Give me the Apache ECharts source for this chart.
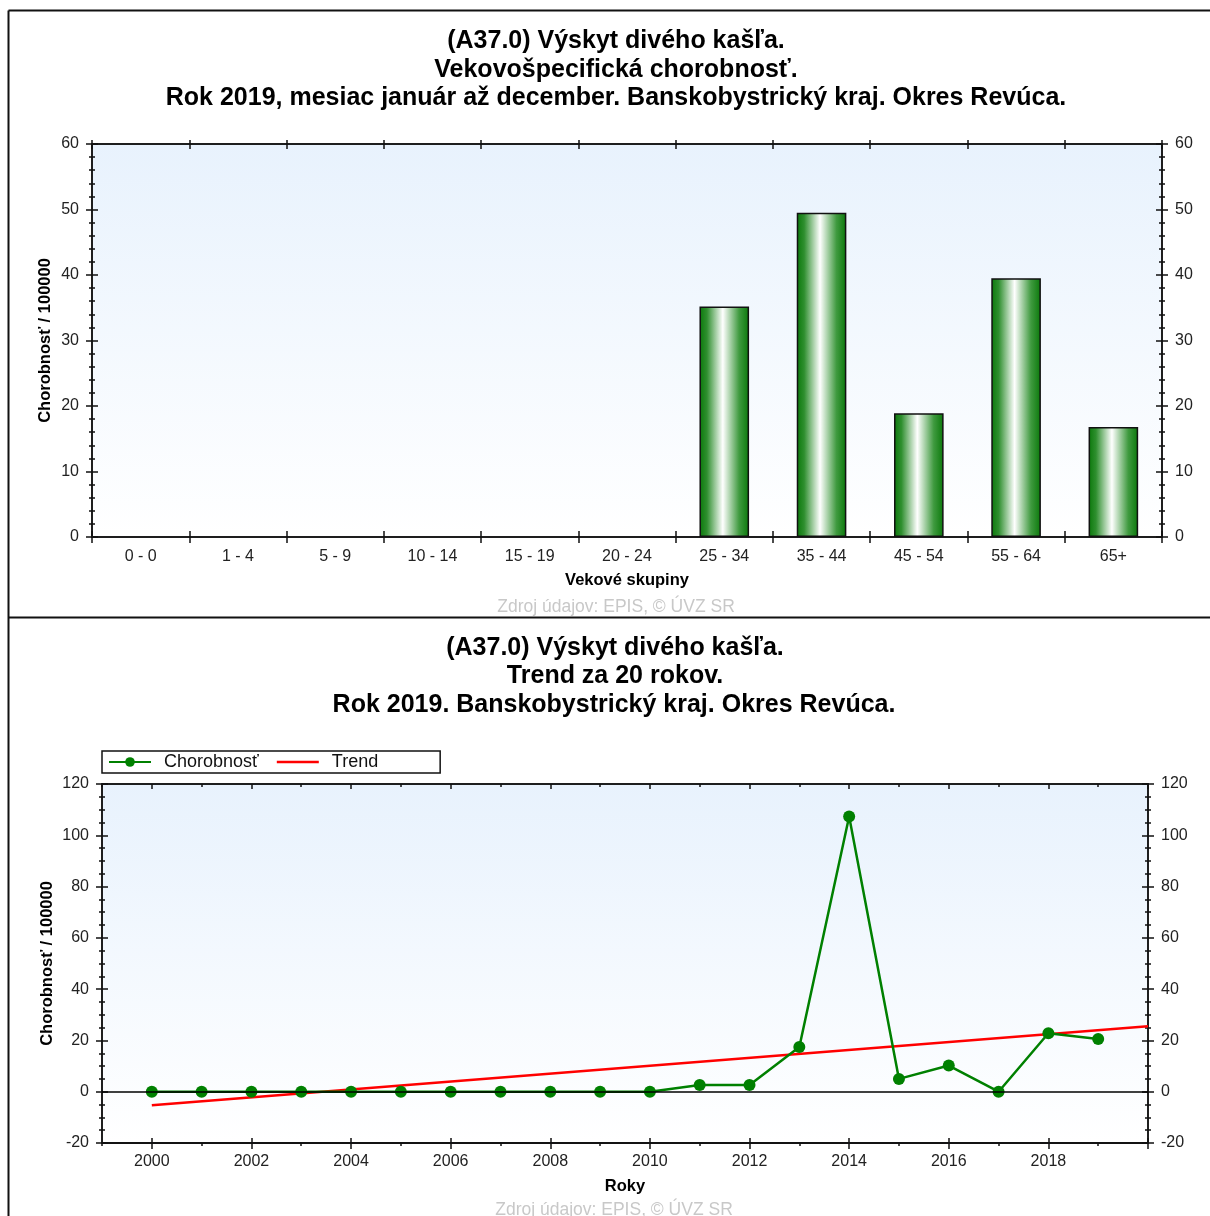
<!DOCTYPE html>
<html>
<head>
<meta charset="utf-8">
<script src="https://cdn.jsdelivr.net/npm/echarts@6/dist/echarts.min.js"></script>
<style>
html,body{margin:0;padding:0;background:#fff;}
#chart{width:1210px;height:1216px;}
</style>
</head>
<body>
<div id="chart"></div>
<script>
// ---- Data ----
const ageGroups = ['0 - 0','1 - 4','5 - 9','10 - 14','15 - 19','20 - 24','25 - 34','35 - 44','45 - 54','55 - 64','65+'];
const ageRates = [0, 0, 0, 0, 0, 0, 35.2, 49.5, 18.9, 39.5, 16.8];

const yearAxisCats = ['1999','2000','2001','2002','2003','2004','2005','2006','2007','2008','2009','2010','2011','2012','2013','2014','2015','2016','2017','2018','2019','2020'];
const years = ['2000','2001','2002','2003','2004','2005','2006','2007','2008','2009','2010','2011','2012','2013','2014','2015','2016','2017','2018','2019'];
const rates = [0, 0, 0, 0, 0, 0, 0, 0, 0, 0, 0, 2.6, 2.6, 17.4, 107.3, 5.0, 10.2, 0, 22.8, 20.6];
const trendYears = ['2000','2020'];
const trendValues = [-5.3, 25.5];

const topTitleLines = ['(A37.0) Výskyt divého kašľa.', 'Vekovošpecifická chorobnosť.', 'Rok 2019, mesiac január až december. Banskobystrický kraj. Okres Revúca.'];
const bottomTitleLines = ['(A37.0) Výskyt divého kašľa.', 'Trend za 20 rokov.', 'Rok 2019. Banskobystrický kraj. Okres Revúca.'];
const yName = 'Chorobnosť / 100000';
const xNameTop = 'Vekové skupiny';
const xNameBottom = 'Roky';
const sourceText = 'Zdroj údajov: EPIS, © ÚVZ SR';
const legendNames = ['Chorobnosť', 'Trend'];

// ---- Styles ----
const FONT = '"Liberation Sans", Arial, sans-serif';
const AX = '#111';
const LBL = '#222';

function catAxis(gridIndex, data, position, inside, len, boundaryGap, extra) {
  return Object.assign({
    type: 'category', gridIndex: gridIndex, data: data, position: position,
    boundaryGap: boundaryGap,
    axisLine: {show: true, onZero: false, lineStyle: {color: AX, width: 1.5}},
    axisTick: {show: true, inside: inside, length: len, lineStyle: {color: AX, width: 1.5}},
    axisLabel: {show: false},
    splitLine: {show: false}
  }, extra || {});
}

function valAxis(gridIndex, position, min, max, interval, split, inside, labels, extra) {
  return Object.assign({
    type: 'value', gridIndex: gridIndex, position: position,
    min: min, max: max, interval: interval,
    axisLine: {show: true, onZero: false, lineStyle: {color: AX, width: 1.5}},
    axisTick: {show: true, inside: inside, length: 6, lineStyle: {color: AX, width: 1.5}},
    minorTick: {show: true, splitNumber: split, length: 3, lineStyle: {color: AX, width: 1.5}},
    axisLabel: labels ? {show: true, color: LBL, fontSize: 16, fontFamily: FONT, margin: 13} : {show: false},
    splitLine: {show: false}, minorSplitLine: {show: false}
  }, extra || {});
}

const bgGrad = {type: 'linear', x: 0, y: 0, x2: 0, y2: 1,
  colorStops: [{offset: 0, color: '#e8f2fd'}, {offset: 1, color: '#ffffff'}]};

const barGrad = {type: 'linear', x: 0, y: 0, x2: 1, y2: 0,
  colorStops: [
    {offset: 0, color: '#0a780a'},
    {offset: 0.15, color: '#2f8f2f'},
    {offset: 0.47, color: '#ffffff'},
    {offset: 0.8, color: '#3f9a3f'},
    {offset: 1, color: '#0a780a'}
  ]};

const evenYear = function (idx, val) { return Number(val) % 2 === 0; };
const evenYearLabel = function (idx, val) { return Number(val) % 2 === 0 && idx < yearAxisCats.length - 1; };
const allTicks = function () { return true; };

const xNameStyle = {color: '#000', fontSize: 16.5, fontWeight: 'bold', fontFamily: FONT};
const xAxes = [
  // top chart: bottom axis with labels
  catAxis(0, ageGroups, 'bottom', false, 6, true, {
    axisLabel: {show: true, color: LBL, fontSize: 16, fontFamily: FONT, margin: 12, interval: 0},
    name: xNameTop, nameLocation: 'middle', nameGap: 35, nameMoveOverlap: false, nameTextStyle: xNameStyle
  }),
  catAxis(0, ageGroups, 'bottom', true, 6, true),
  catAxis(0, ageGroups, 'top', false, 4, true),
  catAxis(0, ageGroups, 'top', true, 5, true),
  // bottom chart
  catAxis(1, yearAxisCats, 'bottom', false, 6, false, {
    axisTick: {show: true, inside: false, length: 6, interval: evenYear, lineStyle: {color: AX, width: 1.5}},
    axisLabel: {show: true, color: LBL, fontSize: 16, fontFamily: FONT, margin: 11, interval: evenYearLabel},
    name: xNameBottom, nameLocation: 'middle', nameGap: 35, nameMoveOverlap: false, nameTextStyle: xNameStyle
  }),
  catAxis(1, yearAxisCats, 'bottom', true, 5, false, {
    axisTick: {show: true, inside: true, length: 5, interval: evenYear, lineStyle: {color: AX, width: 1.5}}
  }),
  catAxis(1, yearAxisCats, 'bottom', false, 3, false, {
    axisTick: {show: true, inside: false, length: 3, interval: allTicks, lineStyle: {color: AX, width: 1.5}}
  }),
  catAxis(1, yearAxisCats, 'top', true, 5, false, {
    axisTick: {show: true, inside: true, length: 5, interval: evenYear, lineStyle: {color: AX, width: 1.5}}
  }),
  catAxis(1, yearAxisCats, 'top', true, 3, false, {
    axisTick: {show: true, inside: true, length: 3, interval: allTicks, lineStyle: {color: AX, width: 1.5}}
  })
];

const yNameStyle = {color: '#000', fontSize: 16.5, fontWeight: 'bold', fontFamily: FONT};
const yAxes = [
  valAxis(0, 'left', 0, 60, 10, 5, false, true, {name: yName, nameLocation: 'middle', nameGap: 38, nameMoveOverlap: false, nameTextStyle: yNameStyle}),
  valAxis(0, 'left', 0, 60, 10, 5, true, false),
  valAxis(0, 'right', 0, 60, 10, 5, false, true),
  valAxis(0, 'right', 0, 60, 10, 5, true, false),
  valAxis(1, 'left', -20, 120, 20, 4, false, true, {name: yName, nameLocation: 'middle', nameGap: 46, nameMoveOverlap: false, nameTextStyle: yNameStyle}),
  valAxis(1, 'left', -20, 120, 20, 4, true, false),
  valAxis(1, 'right', -20, 120, 20, 4, false, true),
  valAxis(1, 'right', -20, 120, 20, 4, true, false)
];

function textEl(str, x, y, font, fill) {
  return {type: 'text', x: x, y: y, silent: true, z: 10,
    style: {text: str, font: font, fill: fill, textAlign: 'center', textVerticalAlign: 'middle', align: 'center', verticalAlign: 'middle'}};
}
function lineEl(x1, y1, x2, y2) {
  return {type: 'line', silent: true, z: 10, shape: {x1: x1, y1: y1, x2: x2, y2: y2}, style: {stroke: '#111', lineWidth: 2}};
}

const titleFont = 'bold 25px ' + FONT;
const srcFont = '17.5px ' + FONT;
const graphics = [
  lineEl(8.5, 10.5, 1210, 10.5),
  lineEl(8.5, 10.5, 8.5, 1216),
  lineEl(8.5, 617.5, 1210, 617.5),
  textEl(topTitleLines[0], 616, 41, titleFont, '#000'),
  textEl(topTitleLines[1], 616, 70, titleFont, '#000'),
  textEl(topTitleLines[2], 616, 98, titleFont, '#000'),
  textEl(bottomTitleLines[0], 615, 648, titleFont, '#000'),
  textEl(bottomTitleLines[1], 615, 676, titleFont, '#000'),
  textEl(bottomTitleLines[2], 614, 705, titleFont, '#000'),
  textEl(sourceText, 616, 607, srcFont, '#c8c8c8'),
  textEl(sourceText, 614, 1210, srcFont, '#c8c8c8')
];

const option = {
  animation: false,
  backgroundColor: '#fff',
  textStyle: {fontFamily: FONT},
  grid: [
    {left: 92, top: 144, width: 1070, height: 393, show: true, backgroundColor: bgGrad, borderWidth: 0},
    {left: 102, top: 784, width: 1046, height: 359, show: true, backgroundColor: bgGrad, borderWidth: 0}
  ],
  legend: {
    data: [
      {name: legendNames[0]},
      {name: legendNames[1], icon: 'path://M0,0 L40,0 L40,2.6 L0,2.6 Z'}
    ],
    left: 102, top: 751,
    orient: 'horizontal',
    padding: [2, 62, 2, 6],
    itemWidth: 42, itemHeight: 12, itemGap: 18,
    symbolKeepAspect: true,
    borderColor: '#111', borderWidth: 1.5,
    textStyle: {fontSize: 18, color: '#111', fontFamily: FONT, padding: [0, 0, 0, 8]},
    selectedMode: false
  },
  xAxis: xAxes,
  yAxis: yAxes,
  graphic: graphics,
  series: [
    {
      type: 'bar', name: 'bars', xAxisIndex: 0, yAxisIndex: 0,
      data: ageRates.map(function (v) { return v === 0 ? '-' : v; }),
      barWidth: '51%',
      itemStyle: {color: barGrad, borderColor: '#111', borderWidth: 1.5},
      z: 3
    },
    {
      type: 'line', name: legendNames[1], xAxisIndex: 4, yAxisIndex: 4,
      data: trendYears.map(function (y, i) { return [y, trendValues[i]]; }),
      symbol: 'none', color: '#ff0000',
      lineStyle: {color: '#ff0000', width: 2.5},
      itemStyle: {color: '#ff0000'},
      z: 2,
      markLine: {
        silent: true, symbol: ['none', 'none'], label: {show: false},
        lineStyle: {color: '#000', width: 1.5, type: 'solid'},
        data: [{yAxis: 0}]
      }
    },
    {
      type: 'line', name: legendNames[0], xAxisIndex: 4, yAxisIndex: 4,
      data: years.map(function (y, i) { return [y, rates[i]]; }),
      symbol: 'circle', symbolSize: 12, color: '#008000',
      lineStyle: {color: '#008000', width: 2.5},
      itemStyle: {color: '#008000'},
      z: 4
    }
  ]
};

const chart = echarts.init(document.getElementById('chart'), null, {renderer: 'canvas'});
chart.setOption(option);
</script>
</body>
</html>
